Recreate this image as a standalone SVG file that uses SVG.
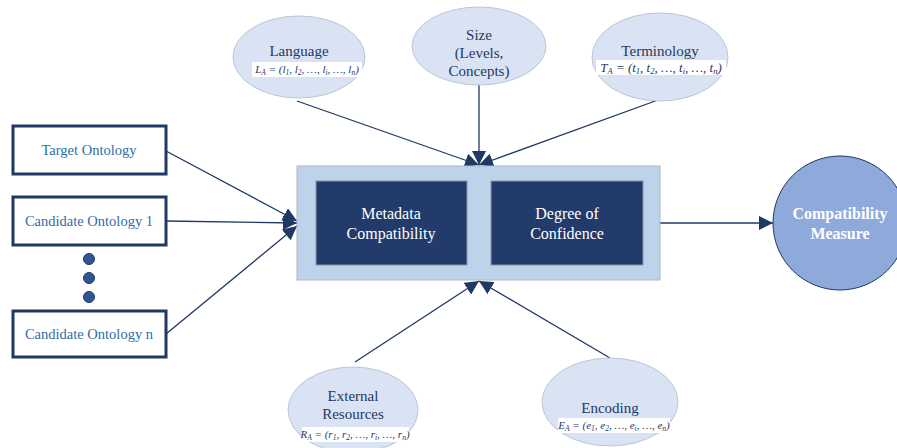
<svg xmlns="http://www.w3.org/2000/svg" width="897" height="448" viewBox="0 0 897 448">
<defs>
<marker id="ah" viewBox="0 0 10 10" refX="10" refY="5" markerWidth="14" markerHeight="14" markerUnits="userSpaceOnUse" orient="auto">
<path d="M0,0 L10,5 L0,10 Z" fill="#1f3864"/>
</marker>
<style>
.ell{fill:#dae3f3;stroke:#bcc6d6;stroke-width:1}
.et{font-family:'Liberation Serif','Times New Roman','DejaVu Serif',serif;font-size:15px;fill:#1f3864;text-anchor:middle}
.fm{font-family:'Liberation Serif','Times New Roman','DejaVu Serif',serif;font-style:italic;fill:#1f3864;text-anchor:middle}
.fb{fill:#ffffff}
.box{fill:#ffffff;stroke:#1f3864;stroke-width:3}
.bt{font-family:'Liberation Serif','Times New Roman','DejaVu Serif',serif;font-size:14.5px;fill:#2e6ea6;text-anchor:middle}
.wt{font-family:'Liberation Serif','Times New Roman','DejaVu Serif',serif;font-size:16px;fill:#ffffff;text-anchor:middle}
.con{stroke:#1f3864;stroke-width:1.3;fill:none;marker-end:url(#ah)}
</style>
</defs>

<g id="connectors">
<line class="con" x1="166" y1="151" x2="297" y2="221"/>
<line class="con" x1="166" y1="221" x2="297" y2="223"/>
<line class="con" x1="166" y1="334" x2="297" y2="226"/>
<line class="con" x1="297" y1="101" x2="479" y2="165"/>
<line class="con" x1="479" y1="85" x2="479" y2="165"/>
<line class="con" x1="658" y1="100" x2="479" y2="165"/>
<line class="con" x1="355" y1="362" x2="479" y2="281"/>
<line class="con" x1="610" y1="358" x2="479" y2="281"/>
<line class="con" x1="660" y1="223" x2="773" y2="223"/>
</g>

<g id="language">
<ellipse class="ell" cx="299" cy="57" rx="66" ry="41"/>
<text class="et" x="299" y="56">Language</text>
<rect class="fb" x="252" y="62" width="110" height="15"/>
<text class="fm" x="307" y="73" font-size="11">L<tspan font-size="7.5" dy="2">A</tspan><tspan dy="-2"> = (l</tspan><tspan font-size="7.5" dy="2">1</tspan><tspan dy="-2">, l</tspan><tspan font-size="7.5" dy="2">2</tspan><tspan dy="-2">, …, l</tspan><tspan font-size="7.5" dy="2">i</tspan><tspan dy="-2">, …, l</tspan><tspan font-size="7.5" dy="2">n</tspan><tspan dy="-2">)</tspan></text>
</g>

<g id="size">
<ellipse class="ell" cx="479" cy="46" rx="67" ry="39"/>
<text class="et" x="479" y="40">Size</text>
<text class="et" x="479" y="58">(Levels,</text>
<text class="et" x="479" y="76">Concepts)</text>
</g>

<g id="terminology">
<ellipse class="ell" cx="660" cy="57" rx="68" ry="44"/>
<text class="et" x="660" y="56">Terminology</text>
<rect class="fb" x="596" y="60" width="130" height="15"/>
<text class="fm" x="661" y="72" font-size="13">T<tspan font-size="8.5" dy="2">A</tspan><tspan dy="-2"> = (t</tspan><tspan font-size="8.5" dy="2">1</tspan><tspan dy="-2">, t</tspan><tspan font-size="8.5" dy="2">2</tspan><tspan dy="-2">, …, t</tspan><tspan font-size="8.5" dy="2">i</tspan><tspan dy="-2">, …, t</tspan><tspan font-size="8.5" dy="2">n</tspan><tspan dy="-2">)</tspan></text>
</g>

<g id="external-resources">
<ellipse class="ell" cx="353" cy="410" rx="65" ry="43"/>
<text class="et" x="353" y="401">External</text>
<text class="et" x="353" y="419">Resources</text>
<rect class="fb" x="302" y="427" width="107" height="15"/>
<text class="fm" x="355" y="438" font-size="11">R<tspan font-size="7.5" dy="2">A</tspan><tspan dy="-2"> = (r</tspan><tspan font-size="7.5" dy="2">1</tspan><tspan dy="-2">, r</tspan><tspan font-size="7.5" dy="2">2</tspan><tspan dy="-2">, …, r</tspan><tspan font-size="7.5" dy="2">i</tspan><tspan dy="-2">, …, r</tspan><tspan font-size="7.5" dy="2">n</tspan><tspan dy="-2">)</tspan></text>
</g>

<g id="encoding">
<ellipse class="ell" cx="610" cy="402" rx="68" ry="44"/>
<text class="et" x="610" y="413">Encoding</text>
<rect class="fb" x="558" y="418" width="112" height="15"/>
<text class="fm" x="614" y="429" font-size="11">E<tspan font-size="7.5" dy="2">A</tspan><tspan dy="-2"> = (e</tspan><tspan font-size="7.5" dy="2">1</tspan><tspan dy="-2">, e</tspan><tspan font-size="7.5" dy="2">2</tspan><tspan dy="-2">, …, e</tspan><tspan font-size="7.5" dy="2">i</tspan><tspan dy="-2">, …, e</tspan><tspan font-size="7.5" dy="2">n</tspan><tspan dy="-2">)</tspan></text>
</g>

<g id="target-ontology">
<rect class="box" x="13" y="126" width="153" height="48"/>
<text class="bt" x="89" y="155">Target Ontology</text>
</g>

<g id="candidate-ontology-1">
<rect class="box" x="13" y="197" width="153" height="48"/>
<text class="bt" x="89" y="226">Candidate Ontology 1</text>
</g>

<g id="ellipsis-dots">
<circle cx="89" cy="259" r="5.5" fill="#2f5597" stroke="#1f3864" stroke-width="1"/>
<circle cx="89" cy="278" r="5.5" fill="#2f5597" stroke="#1f3864" stroke-width="1"/>
<circle cx="89" cy="297" r="5.5" fill="#2f5597" stroke="#1f3864" stroke-width="1"/>
</g>

<g id="candidate-ontology-n">
<rect class="box" x="13" y="311" width="153" height="46"/>
<text class="bt" x="89" y="339">Candidate Ontology n</text>
</g>

<g id="central-block">
<rect x="297" y="166" width="363" height="114" fill="#bdd3ea" stroke="#b0b8c4" stroke-width="1"/>
<g id="metadata-compatibility">
<rect x="316" y="181" width="151" height="84" fill="#223b6b" stroke="#8a96a8" stroke-width="1"/>
<text class="wt" x="391" y="219">Metadata</text>
<text class="wt" x="391" y="239">Compatibility</text>
</g>
<g id="degree-of-confidence">
<rect x="491" y="181" width="152" height="84" fill="#223b6b" stroke="#8a96a8" stroke-width="1"/>
<text class="wt" x="567" y="219">Degree of</text>
<text class="wt" x="567" y="239">Confidence</text>
</g>
</g>

<g id="compatibility-measure">
<circle cx="840" cy="223" r="67" fill="#8eaadb" stroke="#1f3864" stroke-width="1"/>
<text class="wt" x="840" y="219" font-weight="bold">Compatibility</text>
<text class="wt" x="840" y="239" font-weight="bold">Measure</text>
</g>
</svg>
